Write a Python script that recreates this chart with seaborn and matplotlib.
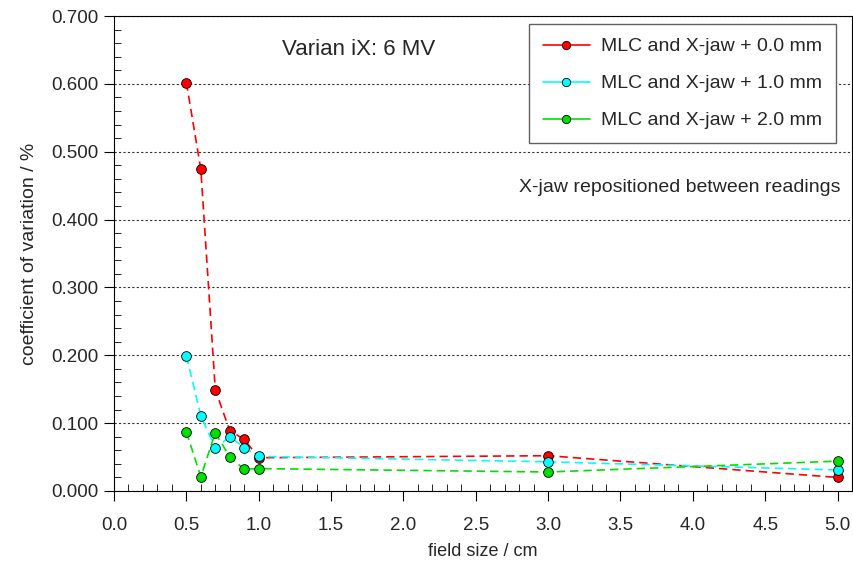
import matplotlib
matplotlib.use("Agg")
import matplotlib.pyplot as plt
from matplotlib.ticker import MultipleLocator, FormatStrFormatter
import seaborn as sns
import pandas as pd

field_size = [0.5, 0.6, 0.7, 0.8, 0.9, 1.0, 3.0, 5.0]
cv_00 = [0.602, 0.474, 0.149, 0.089, 0.076, 0.049, 0.052, 0.020]
cv_10 = [0.199, 0.111, 0.063, 0.080, 0.064, 0.051, 0.043, 0.031]
cv_20 = [0.087, 0.021, 0.086, 0.050, 0.032, 0.033, 0.028, 0.044]
series_names = ["MLC and X-jaw + 0.0 mm", "MLC and X-jaw + 1.0 mm", "MLC and X-jaw + 2.0 mm"]
series_colors = ["#ff0000", "#00ffff", "#00e000"]

rows = []
for name, vals in zip(series_names, [cv_00, cv_10, cv_20]):
    for x, v in zip(field_size, vals):
        rows.append({"field": x, "cv": v, "series": name})
df = pd.DataFrame(rows)

sns.set_style("white")
plt.rcParams['font.family'] = ['Liberation Sans', 'DejaVu Sans']

fig = plt.figure(figsize=(8.54, 5.70), dpi=100)
ax = fig.add_axes([0.1335, 0.1386, 0.8642, 0.8333])

for name, col in zip(series_names, series_colors):
    sub = df[df["series"] == name]
    sns.lineplot(data=sub, x="field", y="cv", ax=ax, color=col, linestyle="--",
                 linewidth=1.2, marker="o", markersize=7, markeredgecolor="black",
                 markeredgewidth=0.6, markerfacecolor=col, label=name, dashes=False)
    ax.lines[-1].set_linestyle((0, (5, 3)))

ax.set_xlim(0, 5.1)
ax.set_ylim(0, 0.7)
ax.xaxis.set_major_locator(MultipleLocator(0.5))
ax.xaxis.set_minor_locator(MultipleLocator(0.1))
ax.yaxis.set_major_locator(MultipleLocator(0.1))
ax.yaxis.set_minor_locator(MultipleLocator(0.02))
ax.xaxis.set_major_formatter(FormatStrFormatter("%.1f"))
ax.yaxis.set_major_formatter(FormatStrFormatter("%.3f"))
ax.tick_params(which="major", direction="out", length=7, width=0.8, labelsize=13.5,
               color="black", pad=4)
ax.tick_params(axis="x", which="major", pad=12)
ax.tick_params(which="minor", direction="in", length=5, width=0.6, color="black")
ax.tick_params(axis="both", which="both", bottom=True, left=True, top=False, right=False)
for sp in ax.spines.values():
    sp.set_color("black")
    sp.set_linewidth(0.8)

ax.yaxis.grid(True, which="major", linestyle=(0, (2, 2)), color="#303030", linewidth=0.8)
ax.xaxis.grid(False)

ax.set_xlabel("field size / cm", fontsize=13, labelpad=6)
ax.set_ylabel("coefficient of variation / %", fontsize=14, labelpad=10)

ax.text(0.332, 0.929, "Varian iX: 6 MV", transform=ax.transAxes, fontsize=16,
        ha="center", va="center")
ax.text(0.984, 0.638, "X-jaw repositioned between readings", transform=ax.transAxes,
        fontsize=14, ha="right", va="center")

leg = ax.legend(loc="upper right", bbox_to_anchor=(0.978, 0.983), fontsize=14,
                frameon=True, fancybox=False, edgecolor="#606060", framealpha=1,
                borderpad=0.7, labelspacing=1.0, handlelength=2.4, handletextpad=0.6,
                borderaxespad=0)
leg.get_frame().set_linewidth(1.0)
for h in leg.get_lines():
    h.set_linestyle("-")
    h.set_markersize(6)

fig.savefig("out.png", dpi=100, facecolor="white")
